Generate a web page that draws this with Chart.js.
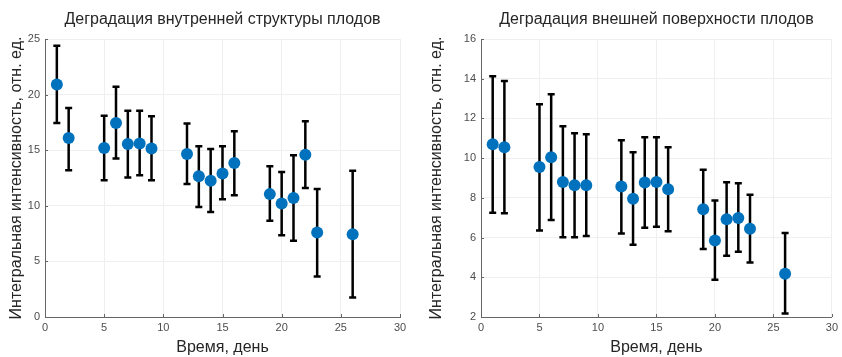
<!DOCTYPE html>
<html>
<head>
<meta charset="utf-8">
<script src="https://cdn.jsdelivr.net/npm/chart.js@4/dist/chart.umd.min.js"></script>
<style>
  body { margin: 0; background: #fff; }
  canvas { position: absolute; top: 0; }
  #inner { left: 0; }
  #outer { left: 421px; }
</style>
</head>
<body>
<canvas id="inner" width="421" height="357"></canvas>
<canvas id="outer" width="421" height="357"></canvas>
<script>
// days of measurement (shared by both panels)
const days = [1, 2, 5, 6, 7, 8, 9, 12, 13, 14, 15, 16, 19, 20, 21, 22, 23, 26];

// internal structure
const innerMean = [20.9, 16.1, 15.2, 17.45, 15.55, 15.6, 15.15, 14.65, 12.65, 12.25, 12.9, 13.85, 11.05, 10.2, 10.7, 14.6, 7.6, 7.45];
const innerLow  = [17.45, 13.2, 12.3, 14.25, 12.55, 12.75, 12.3, 11.95, 9.9, 9.45, 10.6, 10.95, 8.65, 7.35, 6.85, 11.6, 3.65, 1.75];
const innerHigh = [24.4, 18.8, 18.1, 20.7, 18.55, 18.55, 18.05, 17.4, 15.35, 15.1, 15.35, 16.7, 13.55, 13.05, 14.55, 17.6, 11.5, 13.15];

// external surface
const outerMean = [10.7, 10.55, 9.55, 10.05, 8.8, 8.64, 8.64, 8.57, 7.96, 8.77, 8.8, 8.43, 7.43, 5.85, 6.92, 6.99, 6.44, 4.18];
const outerLow  = [7.25, 7.22, 6.35, 6.89, 6.02, 6.02, 6.08, 6.2, 5.64, 6.49, 6.55, 6.32, 5.43, 3.88, 5.09, 5.29, 4.74, 2.17];
const outerHigh = [14.13, 13.88, 12.72, 13.22, 11.6, 11.25, 11.2, 10.9, 10.3, 11.05, 11.05, 10.55, 9.41, 7.87, 8.79, 8.74, 8.16, 6.23];

const xTicks = [0, 5, 10, 15, 20, 25, 30];
const innerTicks = [0, 5, 10, 15, 20, 25];
const outerTicks = [2, 4, 6, 8, 10, 12, 14, 16];

const FONT = "'Liberation Sans', Arial, sans-serif";
const yTitle = "Интегральная интенсивность, отн. ед.";
const xTitle = "Время, день";

// error bars + inward tick marks + rotated y title
const errorBars = {
  id: "errorBars",
  beforeDatasetsDraw(chart, args, opts) {
    const { ctx } = chart;
    const xs = chart.scales.x, ys = chart.scales.y;
    ctx.save();
    ctx.strokeStyle = "#000";
    ctx.lineWidth = 2.5;
    opts.x.forEach((d, i) => {
      const px = xs.getPixelForValue(d);
      const lo = ys.getPixelForValue(opts.low[i]);
      const hi = ys.getPixelForValue(opts.high[i]);
      ctx.beginPath();
      ctx.moveTo(px, lo); ctx.lineTo(px, hi);
      ctx.moveTo(px - 3.5, lo); ctx.lineTo(px + 3.5, lo);
      ctx.moveTo(px - 3.5, hi); ctx.lineTo(px + 3.5, hi);
      ctx.stroke();
    });
    ctx.restore();
  },
  afterDraw(chart, args, opts) {
    const { ctx, chartArea } = chart;
    const xs = chart.scales.x, ys = chart.scales.y;
    ctx.save();
    ctx.strokeStyle = "#666";
    ctx.lineWidth = 1;
    ctx.beginPath();
    xs.ticks.forEach(t => {
      const px = Math.round(xs.getPixelForValue(t.value)) + 0.5;
      ctx.moveTo(px, chartArea.bottom); ctx.lineTo(px, chartArea.bottom - 3);
    });
    ys.ticks.forEach(t => {
      const py = Math.round(ys.getPixelForValue(t.value)) + 0.5;
      ctx.moveTo(chartArea.left, py); ctx.lineTo(chartArea.left + 3, py);
    });
    ctx.stroke();

    ctx.fillStyle = "#262626";
    ctx.font = "16px " + FONT;
    ctx.textAlign = "center";
    ctx.textBaseline = "middle";
    ctx.translate(opts.titleX, (chartArea.top + chartArea.bottom) / 2);
    ctx.rotate(-Math.PI / 2);
    ctx.fillText(yTitle, 0, 0);
    ctx.restore();
  }
};

function makeErrorChart(canvasId, title, mean, low, high, yMin, yMax, yTickVals, axisWidth, padRight, titleX) {
  const ctx = document.getElementById(canvasId);
  return new Chart(ctx, {
    type: "scatter",
    data: {
      datasets: [{
        data: days.map((d, i) => ({ x: d, y: mean[i] })),
        backgroundColor: "#0072BD",
        borderWidth: 0,
        pointRadius: 6,
        pointHoverRadius: 6
      }]
    },
    options: {
      responsive: false,
      animation: false,
      layout: { padding: { left: 0, right: padRight, top: 0, bottom: 0 } },
      plugins: {
        legend: { display: false },
        tooltip: { enabled: false },
        title: {
          display: true,
          text: title,
          fullSize: false,
          color: "#262626",
          font: { family: FONT, size: 16, weight: "normal" },
          padding: { top: 10, bottom: 9.8 }
        },
        errorBars: { x: days, low, high, titleX }
      },
      scales: {
        x: {
          type: "linear",
          min: 0, max: 30,
          afterBuildTicks: s => { s.ticks = xTicks.map(v => ({ value: v })); },
          afterFit: s => { s.height = 40; },
          grid: { color: "#efefef", drawTicks: false },
          border: { color: "#666" },
          ticks: { color: "#4d4d4d", font: { family: FONT, size: 11 }, padding: 4 },
          title: {
            display: true, text: xTitle, color: "#262626",
            font: { family: FONT, size: 16 }, padding: { top: 0, bottom: 0 }
          }
        },
        y: {
          min: yMin, max: yMax,
          afterBuildTicks: s => { s.ticks = yTickVals.map(v => ({ value: v })); },
          afterFit: s => { s.width = axisWidth; },
          grid: { color: "#efefef", drawTicks: false },
          border: { color: "#666" },
          ticks: { color: "#4d4d4d", font: { family: FONT, size: 11 }, padding: 5 }
        }
      }
    },
    plugins: [errorBars]
  });
}

makeErrorChart("inner", "Деградация внутренней структуры плодов",
  innerMean, innerLow, innerHigh, 0, 25, innerTicks, 45, 21, 17);
makeErrorChart("outer", "Деградация внешней поверхности плодов",
  outerMean, outerLow, outerHigh, 2, 16, outerTicks, 60, 6, 16);
</script>
</body>
</html>
